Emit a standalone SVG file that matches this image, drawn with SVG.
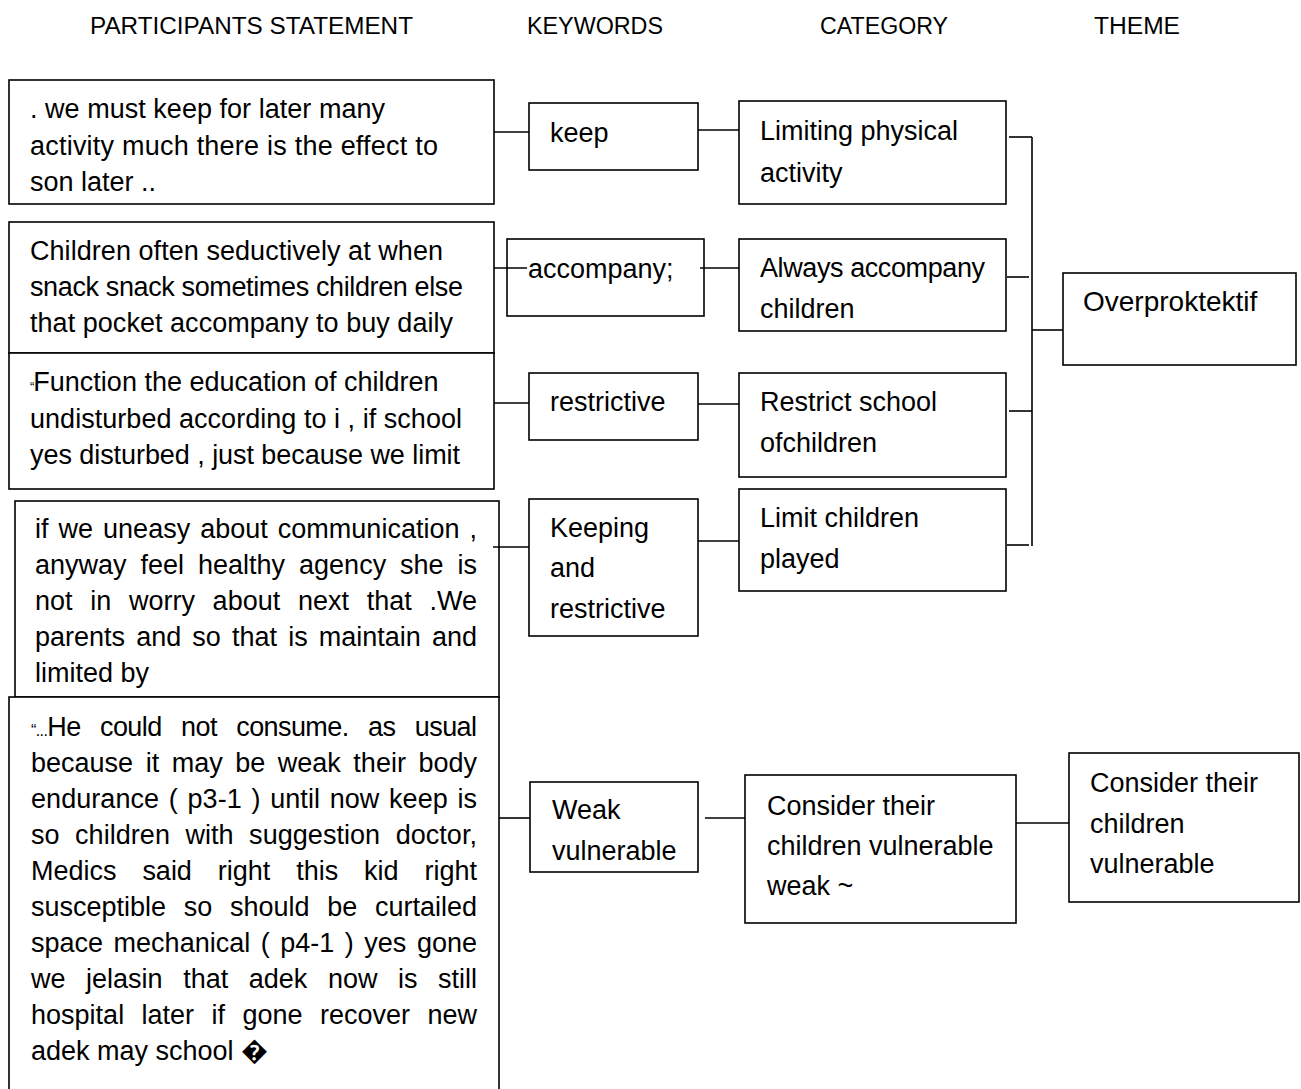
<svg xmlns="http://www.w3.org/2000/svg" width="1301" height="1089" viewBox="0 0 1301 1089">
<style>
  .box { fill: #ffffff; stroke: #000000; stroke-width: 1.6; }
  .t { font-family: "Liberation Sans", Arial, sans-serif; font-size: 27px; fill: #000000; }
  .h { font-family: "Liberation Sans", Arial, sans-serif; font-size: 23px; fill: #000000; }
  .a { font-family: "Liberation Sans", Arial, sans-serif; font-size: 28px; fill: #000000; }
  .conn line { stroke: #000000; stroke-width: 1.6; }
</style>
<rect x="0" y="0" width="1301" height="1089" fill="#ffffff"/>

<g id="headers">
  <text class="h" x="90" y="34" textLength="323" lengthAdjust="spacingAndGlyphs">PARTICIPANTS STATEMENT</text>
  <text class="h" x="527" y="34" textLength="136" lengthAdjust="spacingAndGlyphs">KEYWORDS</text>
  <text class="h" x="820" y="34" textLength="128" lengthAdjust="spacingAndGlyphs">CATEGORY</text>
  <text class="h" x="1094" y="34" textLength="86" lengthAdjust="spacingAndGlyphs">THEME</text>
</g>

<g id="statement1">
  <rect class="box" x="9" y="80" width="485" height="124"/>
  <text class="t" x="30" y="118" textLength="355" lengthAdjust="spacing">. we must keep for later many</text>
  <text class="t" x="30" y="155" textLength="408" lengthAdjust="spacing">activity much there is the effect to</text>
  <text class="t" x="30" y="191">son later ..</text>
</g>

<g id="statement2">
  <rect class="box" x="9" y="222" width="485" height="131"/>
  <text class="t" x="30" y="260" textLength="413" lengthAdjust="spacing">Children often seductively at when</text>
  <text class="t" x="30" y="296" textLength="433" lengthAdjust="spacing">snack snack sometimes children else</text>
  <text class="t" x="30" y="332" textLength="423" lengthAdjust="spacing">that pocket accompany to buy daily</text>
</g>

<g id="statement3">
  <rect class="box" x="9" y="353" width="485" height="136"/>
  <text class="t" x="30" y="391"><tspan font-size="13">“</tspan><tspan dx="-1">Function the education of children</tspan></text>
  <text class="t" x="30" y="428" textLength="432" lengthAdjust="spacing">undisturbed according to i , if school</text>
  <text class="t" x="30" y="464" textLength="430" lengthAdjust="spacing">yes disturbed , just because we limit</text>
</g>

<g id="statement4">
  <rect class="box" x="15" y="501" width="484" height="196"/>
  <text class="t" x="35" y="538" word-spacing="2.5" textLength="442" lengthAdjust="spacing">if we uneasy about communication ,</text>
  <text class="t" x="35" y="574" word-spacing="6.4" textLength="442" lengthAdjust="spacing">anyway feel healthy agency she is</text>
  <text class="t" x="35" y="610" word-spacing="10.1" textLength="442" lengthAdjust="spacing">not in worry about next that .We</text>
  <text class="t" x="35" y="646" word-spacing="3.6" textLength="442" lengthAdjust="spacing">parents and so that is maintain and</text>
  <text class="t" x="35" y="682">limited by</text>
</g>

<g id="statement5">
  <rect class="box" x="9" y="697" width="490" height="420"/>
  <text class="t" x="31" y="736" word-spacing="12.6" textLength="446" lengthAdjust="spacing"><tspan font-size="16">“...</tspan>He could not consume. as usual</text>
  <text class="t" x="31" y="772" word-spacing="5" textLength="446" lengthAdjust="spacing">because it may be weak their body</text>
  <text class="t" x="31" y="808" word-spacing="2.1" textLength="446" lengthAdjust="spacing">endurance ( p3-1 ) until now keep is</text>
  <text class="t" x="31" y="844" word-spacing="7.9" textLength="446" lengthAdjust="spacing">so children with suggestion doctor,</text>
  <text class="t" x="31" y="880" word-spacing="18.4" textLength="446" lengthAdjust="spacing">Medics said right this kid right</text>
  <text class="t" x="31" y="916" word-spacing="10.2" textLength="446" lengthAdjust="spacing">susceptible so should be curtailed</text>
  <text class="t" x="31" y="952" word-spacing="3" textLength="446" lengthAdjust="spacing">space mechanical ( p4-1 ) yes gone</text>
  <text class="t" x="31" y="988" word-spacing="13" textLength="446" lengthAdjust="spacing">we jelasin that adek now is still</text>
  <text class="t" x="31" y="1024" word-spacing="9.9" textLength="446" lengthAdjust="spacing">hospital later if gone recover new</text>
  <text class="t" x="31" y="1060">adek may school �</text>
</g>

<g id="keyword1">
  <rect class="box" x="529" y="103" width="169" height="67"/>
  <text class="t" x="550" y="142">keep</text>
</g>
<g id="keyword2">
  <rect class="box" x="507" y="239" width="197" height="77"/>
  <text class="t" x="528" y="278">accompany;</text>
</g>
<g id="keyword3">
  <rect class="box" x="529" y="373" width="169" height="67"/>
  <text class="t" x="550" y="411">restrictive</text>
</g>
<g id="keyword4">
  <rect class="box" x="529" y="499" width="169" height="137"/>
  <text class="t" x="550" y="537">Keeping</text>
  <text class="t" x="550" y="577">and</text>
  <text class="t" x="550" y="618">restrictive</text>
</g>
<g id="keyword5">
  <rect class="box" x="530" y="782" width="168" height="90"/>
  <text class="t" x="552" y="819">Weak</text>
  <text class="t" x="552" y="860">vulnerable</text>
</g>

<g id="category1">
  <rect class="box" x="739" y="101" width="267" height="103"/>
  <text class="t" x="760" y="140">Limiting physical</text>
  <text class="t" x="760" y="182">activity</text>
</g>
<g id="category2">
  <rect class="box" x="739" y="239" width="267" height="92"/>
  <text class="t" x="760" y="277" textLength="225" lengthAdjust="spacing">Always accompany</text>
  <text class="t" x="760" y="318">children</text>
</g>
<g id="category3">
  <rect class="box" x="739" y="373" width="267" height="104"/>
  <text class="t" x="760" y="411">Restrict school</text>
  <text class="t" x="760" y="452">ofchildren</text>
</g>
<g id="category4">
  <rect class="box" x="739" y="489" width="267" height="102"/>
  <text class="t" x="760" y="527">Limit children</text>
  <text class="t" x="760" y="568">played</text>
</g>
<g id="category5">
  <rect class="box" x="745" y="775" width="271" height="148"/>
  <text class="t" x="767" y="815">Consider their</text>
  <text class="t" x="767" y="855">children vulnerable</text>
  <text class="t" x="767" y="895">weak ~</text>
</g>

<g id="theme1">
  <rect class="box" x="1063" y="273" width="233" height="92"/>
  <text class="a" x="1083" y="311">Overproktektif</text>
</g>
<g id="theme2">
  <rect class="box" x="1069" y="753" width="230" height="149"/>
  <text class="t" x="1090" y="792">Consider their</text>
  <text class="t" x="1090" y="833">children</text>
  <text class="t" x="1090" y="873">vulnerable</text>
</g>

<g id="connectors" class="conn">
  <line x1="494" y1="132" x2="529" y2="132"/>
  <line x1="698" y1="130" x2="739" y2="130"/>
  <line x1="494" y1="268" x2="527" y2="268"/>
  <line x1="700" y1="268" x2="739" y2="268"/>
  <line x1="494" y1="403" x2="529" y2="403"/>
  <line x1="698" y1="404" x2="739" y2="404"/>
  <line x1="493" y1="547" x2="529" y2="547"/>
  <line x1="698" y1="541" x2="739" y2="541"/>
  <line x1="1009" y1="137" x2="1032" y2="137"/>
  <line x1="1007" y1="277" x2="1029" y2="277"/>
  <line x1="1009" y1="411" x2="1032" y2="411"/>
  <line x1="1007" y1="545" x2="1029" y2="545"/>
  <line x1="1032" y1="137" x2="1032" y2="546"/>
  <line x1="1032" y1="330" x2="1063" y2="330"/>
  <line x1="499" y1="818" x2="530" y2="818"/>
  <line x1="705" y1="818" x2="745" y2="818"/>
  <line x1="1016" y1="823" x2="1069" y2="823"/>
</g>
</svg>
